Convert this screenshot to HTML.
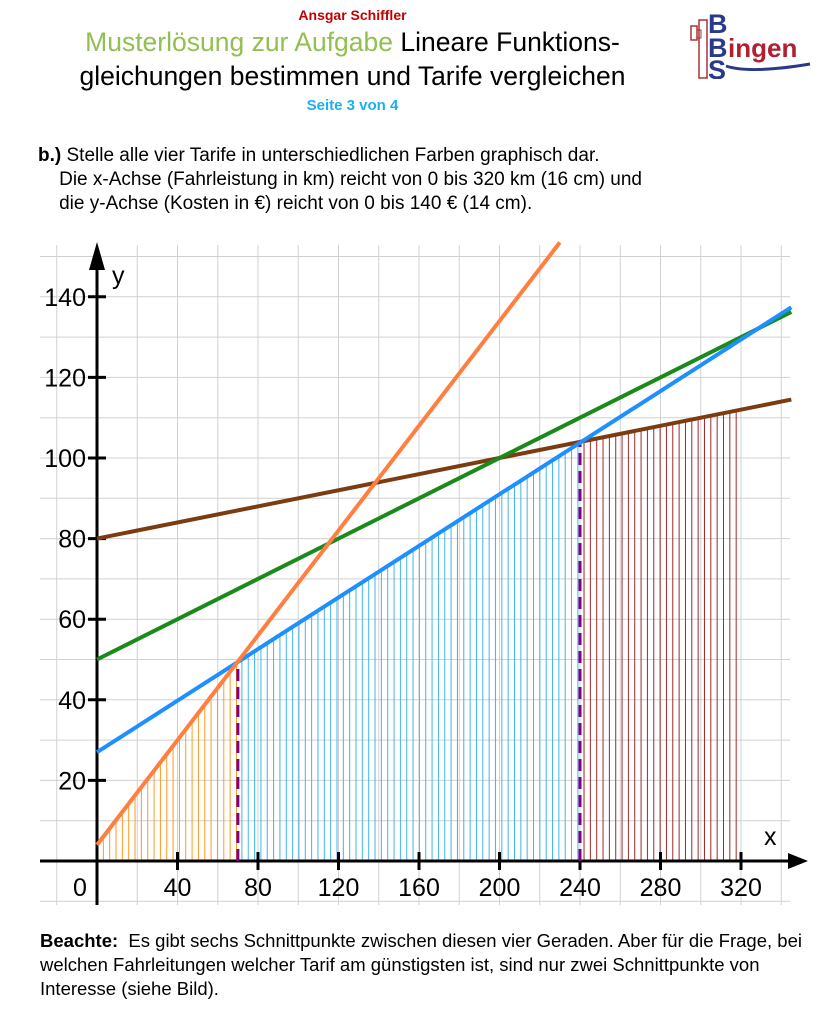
<!DOCTYPE html>
<html><head><meta charset="utf-8">
<style>
body{margin:0;background:#fff;width:833px;height:1010px;overflow:hidden;font-family:"Liberation Sans",sans-serif;position:relative}
.t{position:absolute;white-space:nowrap}
</style></head><body>
<div class="t" style="left:0;width:705px;text-align:center;top:7px;font-size:14px;font-weight:bold;color:#c00000">Ansgar Schiffler</div>
<div class="t" style="left:0;width:705px;text-align:center;top:27px;font-size:26.5px;color:#000"><span style="color:#92c050">Musterlösung zur Aufgabe</span> Lineare Funktions-</div>
<div class="t" style="left:0;width:705px;text-align:center;top:61px;font-size:26.5px;color:#000">gleichungen bestimmen und Tarife vergleichen</div>
<div class="t" style="left:0;width:705px;text-align:center;top:97px;font-size:15px;font-weight:bold;color:#1ab0f0">Seite 3 von 4</div>
<svg class="t" style="left:680px;top:4px" width="150" height="75">
<rect x="11" y="22" width="6" height="14" fill="none" stroke="#a33" stroke-width="1.5"/>
<rect x="19" y="16" width="8" height="58" fill="none" stroke="#a33" stroke-width="1.5"/>
<rect x="17" y="26" width="4" height="8" fill="none" stroke="#a33" stroke-width="1"/>
<text x="28" y="29" font-size="27" font-weight="bold" fill="#2a3a8a" font-family="Liberation Sans">B</text>
<text x="28" y="53" font-size="27" font-weight="bold" fill="#2a3a8a" font-family="Liberation Sans">B</text>
<text x="28" y="75" font-size="27" font-weight="bold" fill="#2a3a8a" font-family="Liberation Sans">S</text>
<text x="48" y="53" font-size="26" font-weight="bold" fill="#b02030" font-family="Liberation Sans">ingen</text>
<path d="M46 62 Q70 70 130 60" stroke="#2a3a8a" stroke-width="3" fill="none"/>
</svg>
<div class="t" style="left:38px;top:144px;font-size:19px;line-height:24px;color:#000"><b>b.)</b> Stelle alle vier Tarife in unterschiedlichen Farben graphisch dar.<br>&nbsp; &nbsp; Die x-Achse (Fahrleistung in km) reicht von 0 bis 320 km (16 cm) und<br>&nbsp; &nbsp; die y-Achse (Kosten in €) reicht von 0 bis 140 € (14 cm).</div>
<svg id="c" class="t" style="left:0;top:0" width="833" height="1010"></svg>
<div class="t" style="left:40px;top:929px;font-size:18.5px;line-height:24px;color:#000"><b>Beachte:</b>&nbsp; Es gibt sechs Schnittpunkte zwischen diesen vier Geraden. Aber für die Frage, bei<br>welchen Fahrleitungen welcher Tarif am günstigsten ist, sind nur zwei Schnittpunkte von<br>Interesse (siehe Bild).</div>
<script>
var s='',X=function(x){return 97+2.0125*x},Y=function(y){return 861-4.03*y};
function L(a,b,c,d,col,w,ex){s+='<line x1="'+a+'" y1="'+b+'" x2="'+c+'" y2="'+d+'" stroke="'+col+'" stroke-width="'+w+'" '+(ex||'')+'/>';}
for(var x=-20;x<=340;x+=20){L(X(x),245,X(x),905,'#d0d0d0',1);}
for(var y=-10;y<=150;y+=10){if(Y(y)<245)continue;L(40,Y(y),790,Y(y),'#d0d0d0',1);}
var st=3.15;
for(var x=st;x<70;x+=st)L(X(x),861,X(x),Y(0.65*x+4),'#ff9a20',1);
for(var x=72;x<240;x+=st)L(X(x),861,X(x),Y(0.32*x+27),'#40b4f0',1);
for(var x=242;x<=320.5;x+=st)L(X(x),861,X(x),Y(0.1*x+80),'#a02828',1);
L(40,861,790,861,'#000',3);L(97,905,97,260,'#000',3);
s+='<polygon points="89,270 105,270 97,242" fill="#000"/>';
s+='<polygon points="792,853 792,869 812,861" fill="#000" transform="translate(-4,0)"/>';
for(var x=40;x<=320;x+=40)L(X(x),852,X(x),870,'#000',3);
for(var y=20;y<=140;y+=20)L(88,Y(y),106,Y(y),'#000',3);
L(X(70),861,X(70),Y(49.5),'#800080',3,'stroke-dasharray="12,6"');
L(X(240),861,X(240),Y(104),'#800080',3,'stroke-dasharray="12,6"');
function F(m,b,col,x2){L(X(0),Y(b),X(x2),Y(m*x2+b),col,4);}
F(0.1,80,'#7a3c10',345);F(0.25,50,'#1a8a1a',345);F(0.32,27,'#1e8fff',345);F(0.65,4,'#ff7f40',230);
var ft='font-family="Liberation Sans" font-size="25" fill="#000"';
for(var y=20;y<=140;y+=20)s+='<text x="86" y="'+(Y(y)+9)+'" text-anchor="end" '+ft+'>'+y+'</text>';
s+='<text x="80" y="896" text-anchor="middle" '+ft+'>0</text>';
for(var x=40;x<=320;x+=40)s+='<text x="'+X(x)+'" y="896" text-anchor="middle" '+ft+'>'+x+'</text>';
s+='<text x="112" y="284" '+ft+'>y</text><text x="764" y="845" '+ft+'>x</text>';
document.getElementById('c').innerHTML=s;
</script>
</body></html>
